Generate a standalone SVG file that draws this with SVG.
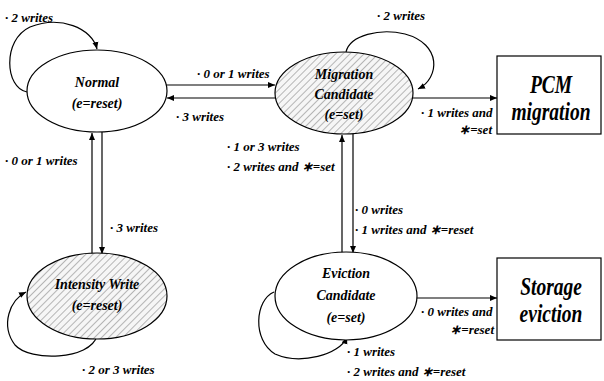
<svg xmlns="http://www.w3.org/2000/svg" width="604" height="381" viewBox="0 0 604 381" font-family="'Liberation Serif', 'Times New Roman', serif" font-weight="bold" font-style="italic">
<style>
.lb{font-size:13px}
.nd{font-size:14px;text-anchor:middle}
.bx{font-size:25px;text-anchor:middle}
.st{fill:#fff;stroke:#000;stroke-width:1.2}
.hs{fill:url(#hatch);stroke:#000;stroke-width:1.2}
.ln{fill:none;stroke:#000;stroke-width:1.2}
</style>
<defs>
<pattern id="hatch" width="5" height="5" patternUnits="userSpaceOnUse" patternTransform="rotate(45)">
<rect width="5" height="5" fill="#f6f6f6"/>
<line x1="0" y1="0" x2="0" y2="5" stroke="#a0a0a0" stroke-width="1.5"/>
</pattern>
<marker id="ah" markerWidth="8" markerHeight="8" refX="7" refY="4" orient="auto" markerUnits="userSpaceOnUse">
<path d="M0,1 L7,4 L0,7 Z" fill="#000"/>
</marker>
</defs>
<rect width="604" height="381" fill="#fff"/>
<g id="connectors">
<path class="ln" d="M166,85 L275,85" marker-end="url(#ah)"/>
<path class="ln" d="M277,98 L167,98" marker-end="url(#ah)"/>
<path class="ln" d="M412,98 L497,98" marker-end="url(#ah)"/>
<path class="ln" d="M92,254 L92,133" marker-end="url(#ah)"/>
<path class="ln" d="M102,132 L102,254" marker-end="url(#ah)"/>
<path class="ln" d="M342,253 L342,135" marker-end="url(#ah)"/>
<path class="ln" d="M353,134 L353,253" marker-end="url(#ah)"/>
<path class="ln" d="M417,298 L497,298" marker-end="url(#ah)"/>
<path class="ln" d="M27,92 C5,88 2,40 30,27 C60,15 92,28 97,49" marker-end="url(#ah)"/>
<path class="ln" d="M346,52 C350,35 380,28 405,34 C442,44 440,78 418,89" marker-end="url(#ah)"/>
<path class="ln" d="M97,336 C90,360 30,362 15,345 C0,325 10,300 26,292" marker-end="url(#ah)"/>
<path class="ln" d="M274,292 C255,300 252,340 275,354 C300,365 340,355 347,337" marker-end="url(#ah)"/>
</g>
<g id="normal">
<ellipse class="st" cx="97" cy="91" rx="70" ry="41"/>
<text class="nd" x="97" y="87">Normal</text>
<text class="nd" x="97" y="108">(e=reset)</text>
</g>
<g id="migration">
<ellipse class="hs" cx="344" cy="93" rx="69" ry="41"/>
<text class="nd" x="344" y="79">Migration</text>
<text class="nd" x="344" y="99">Candidate</text>
<text class="nd" x="344" y="119">(e=set)</text>
</g>
<g id="intensity">
<ellipse class="hs" cx="97" cy="296" rx="70" ry="43"/>
<text class="nd" x="97" y="289">Intensity Write</text>
<text class="nd" x="97" y="310">(e=reset)</text>
</g>
<g id="eviction">
<ellipse class="st" cx="346" cy="296" rx="71" ry="44"/>
<text class="nd" x="346" y="278">Eviction</text>
<text class="nd" x="346" y="300">Candidate</text>
<text class="nd" x="346" y="322">(e=set)</text>
</g>
<g id="pcm">
<rect class="st" x="497" y="56" width="104" height="78"/>
<g transform="translate(551,0) scale(0.78,1)">
<text class="bx" x="0" y="93">PCM</text>
<text class="bx" x="0" y="120">migration</text>
</g>
</g>
<g id="storage">
<rect class="st" x="497" y="258" width="104" height="82"/>
<g transform="translate(551,0) scale(0.78,1)">
<text class="bx" x="0" y="295">Storage</text>
<text class="bx" x="0" y="322">eviction</text>
</g>
</g>
<g id="labels">
<text class="lb" x="5" y="22">· 2 writes</text>
<text class="lb" x="377" y="20">· 2 writes</text>
<text class="lb" x="197" y="78">· 0 or 1 writes</text>
<text class="lb" x="176" y="121">· 3 writes</text>
<text class="lb" x="421" y="117">· 1 writes and</text>
<text class="lb" x="492" y="134" text-anchor="end">∗=set</text>
<text class="lb" x="5" y="165">· 0 or 1 writes</text>
<text class="lb" x="110" y="232">· 3 writes</text>
<text class="lb" x="227" y="151">· 1 or 3 writes</text>
<text class="lb" x="227" y="171">· 2 writes and ∗=set</text>
<text class="lb" x="355" y="214">· 0 writes</text>
<text class="lb" x="355" y="234">· 1 writes and ∗=reset</text>
<text class="lb" x="421" y="316">· 0 writes and</text>
<text class="lb" x="494" y="334" text-anchor="end">∗=reset</text>
<text class="lb" x="347" y="356">· 1 writes</text>
<text class="lb" x="347" y="376">· 2 writes and ∗=reset</text>
<text class="lb" x="82" y="374">· 2 or 3 writes</text>
</g>
</svg>
